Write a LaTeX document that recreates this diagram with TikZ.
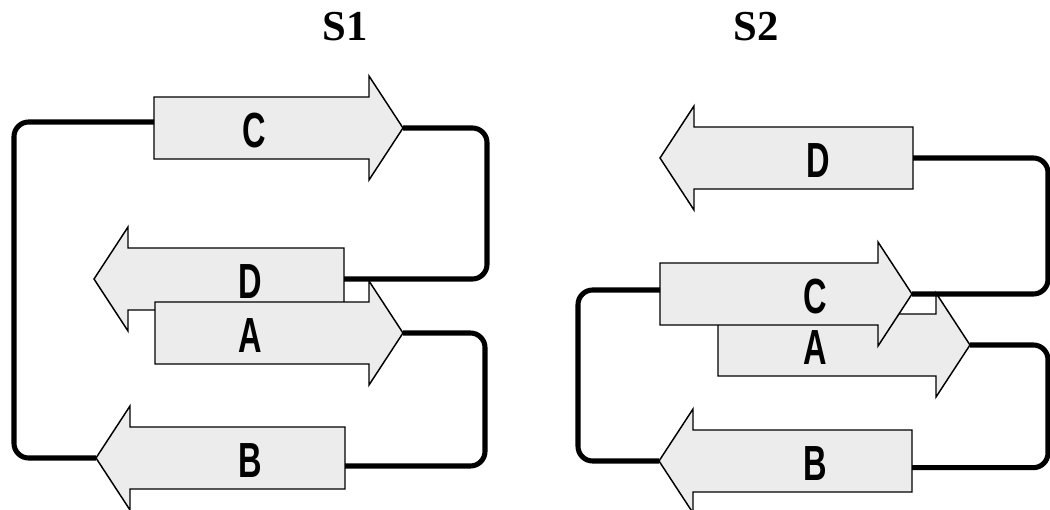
\documentclass[tikz,border=0pt]{standalone}
\usepackage{fontspec}
\setmainfont{Liberation Serif}
\setsansfont{Liberation Sans}
\usepackage{graphicx}
\usetikzlibrary{calc}
\definecolor{stFill}{RGB}{236,236,236}

% one strand: name, tail x, tip x, y, label x, label
\newcommand\strand[6]{%
  \pgfmathsetmacro\hbase{#3-34*sign(#3-#2)}%
  \filldraw[strandline] (#2,#4-31) -- (\hbase,#4-31) -- (\hbase,#4-52) -- (#3,#4)
     -- (\hbase,#4+52) -- (\hbase,#4+31) -- (#2,#4+31) -- cycle;
  \coordinate (#1-tail) at (#2,#4);
  \coordinate (#1-tip) at (#3,#4);
  \node[letter] (#1) at (#5,#4+3) {\scalebox{0.66}[1]{#6}};
}

\begin{document}
\begin{tikzpicture}[x=0.75pt,y=-0.75pt,
  strandline/.style={draw=black,fill=stFill,line width=1.1pt,line join=miter},
  link/.style={line width=3.8pt,rounded corners=11pt},
  letter/.style={font=\sffamily\bfseries\fontsize{37}{37}\selectfont,inner sep=0pt},
  title/.style={font=\bfseries\fontsize{32}{32}\selectfont,inner sep=0pt}
]
\useasboundingbox (0,0) rectangle (1050,510);

\node[title] (s1) at (345,27) {S1};
\node[title] (s2) at (756,27) {S2};

% S1
\strand{C1}{154}{403}{128}{254}{C}
\strand{D1}{344}{94}{279}{250}{D}
\strand{A1}{155}{403}{333}{250}{A}
\strand{B1}{345}{96}{458}{250}{B}

\draw[link] ([yshift=4.5pt]C1-tail) -- ++(-140,0) |- (B1-tip);
\draw[link] (C1-tip) -- ++(84,0) |- (D1-tail);
\draw[link] (A1-tip) -- ++(82,0) |- ([yshift=-6pt]B1-tail);

% S2
\strand{D2}{913}{660}{158}{818}{D}
\strand{A2}{718}{970}{345}{815}{A}
\strand{C2}{660}{912}{294}{815}{C}
\strand{B2}{912}{659}{461}{815}{B}

\draw[link] (D2-tail) -- ++(135,0) |- (C2-tip);
\draw[link] (A2-tip) -- ++(78,0) |- ([yshift=-5pt]B2-tail);
\draw[link] ([yshift=3pt]C2-tail) -- ++(-82,0) |- (B2-tip);
\end{tikzpicture}
\end{document}
